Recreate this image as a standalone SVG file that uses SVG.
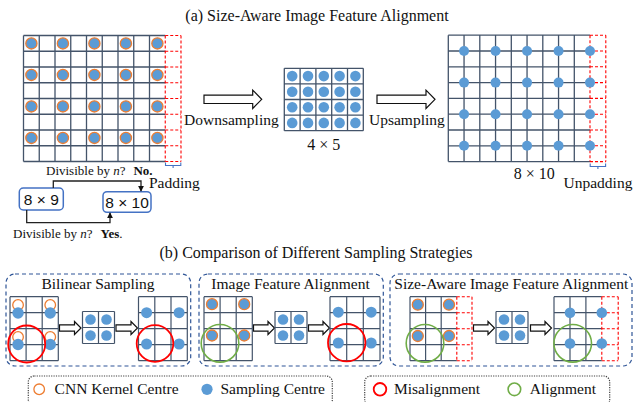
<svg xmlns="http://www.w3.org/2000/svg" width="634" height="402" viewBox="0 0 634 402">
<style>
text{font-family:"Liberation Serif","Times New Roman",serif;fill:#111}
.t16{font-size:16px}
.t15{font-size:15.5px}
.t13{font-size:13px}
.sans{font-family:"Liberation Sans",Arial,sans-serif;font-size:15.5px}
.g{fill:none;stroke:#44546A;stroke-width:1.3}
.gs{fill:none;stroke:#44546A;stroke-width:1.2}
.rd{fill:none;stroke:#FF0000;stroke-width:1.1;stroke-dasharray:3 2}
.dot{fill:#5B9BD5}
.dk{fill:#5B9BD5;stroke:#ED7D31;stroke-width:1.3}
.ok{fill:none;stroke:#ED7D31;stroke-width:1.3}
.mis{fill:none;stroke:#FF0000;stroke-width:1.8}
.al{fill:none;stroke:#70AD47;stroke-width:1.6}
.arw{fill:#fff;stroke:#111;stroke-width:1.2}
.panel{fill:none;stroke:#2F5597;stroke-width:1.2;stroke-dasharray:4 3}
.leg{fill:#fff;stroke:#404040;stroke-width:1.2;stroke-dasharray:1.2 1.2}
.box{fill:#fff;stroke:#4472C4;stroke-width:1.5}
.brk{fill:none;stroke:#4472C4;stroke-width:1.1}
.con{fill:none;stroke:#222;stroke-width:1.3}
</style>
<defs>
<marker id="ah" viewBox="0 0 8 8" refX="7" refY="4" markerWidth="6" markerHeight="6" markerUnits="userSpaceOnUse" orient="auto">
<path d="M0,0 L8,4 L0,8 Z" fill="#111"/>
</marker>
</defs>
<rect width="634" height="402" fill="#fff"/>

<text class="t16" x="317" y="21" text-anchor="middle">(a) Size-Aware Image Feature Alignment</text>

<g id="grid-8x9">
<path class="g" d="M23.5,35.5V161.5M39.25,35.5V161.5M55,35.5V161.5M70.75,35.5V161.5M86.5,35.5V161.5M102.25,35.5V161.5M118,35.5V161.5M133.75,35.5V161.5M149.5,35.5V161.5M23.5,35.5H165.25M23.5,51.25H165.25M23.5,67H165.25M23.5,82.75H165.25M23.5,98.5H165.25M23.5,114.25H165.25M23.5,130H165.25M23.5,145.75H165.25M23.5,161.5H165.25"/>
<path class="rd" d="M165.25,35.5V161.5M181,35.5V161.5M165.25,35.5H181M165.25,51.25H181M165.25,67H181M165.25,82.75H181M165.25,98.5H181M165.25,114.25H181M165.25,130H181M165.25,145.75H181M165.25,161.5H181"/>
<g>
<circle class="dk" cx="31.4" cy="43.4" r="5.6"/><circle class="dk" cx="62.9" cy="43.4" r="5.6"/><circle class="dk" cx="94.4" cy="43.4" r="5.6"/><circle class="dk" cx="125.9" cy="43.4" r="5.6"/><circle class="dk" cx="157.4" cy="43.4" r="5.6"/>
<circle class="dk" cx="31.4" cy="74.9" r="5.6"/><circle class="dk" cx="62.9" cy="74.9" r="5.6"/><circle class="dk" cx="94.4" cy="74.9" r="5.6"/><circle class="dk" cx="125.9" cy="74.9" r="5.6"/><circle class="dk" cx="157.4" cy="74.9" r="5.6"/>
<circle class="dk" cx="31.4" cy="106.4" r="5.6"/><circle class="dk" cx="62.9" cy="106.4" r="5.6"/><circle class="dk" cx="94.4" cy="106.4" r="5.6"/><circle class="dk" cx="125.9" cy="106.4" r="5.6"/><circle class="dk" cx="157.4" cy="106.4" r="5.6"/>
<circle class="dk" cx="31.4" cy="137.9" r="5.6"/><circle class="dk" cx="62.9" cy="137.9" r="5.6"/><circle class="dk" cx="94.4" cy="137.9" r="5.6"/><circle class="dk" cx="125.9" cy="137.9" r="5.6"/><circle class="dk" cx="157.4" cy="137.9" r="5.6"/>
</g>
<path class="brk" d="M165.5,162.5V165.5H180.8V162.5M173.1,165.5V168"/>
<text class="t13" x="46" y="175">Divisible by <tspan font-style="italic">n</tspan>?<tspan dx="8" font-weight="bold">No.</tspan></text>
<text class="t15" x="149" y="187.5">Padding</text>
</g>

<g id="grid-4x5">
<path class="g" d="M284.3,68.3V130.7M300.1,68.3V130.7M315.9,68.3V130.7M331.7,68.3V130.7M347.5,68.3V130.7M363.3,68.3V130.7M284.3,68.3H363.3M284.3,83.9H363.3M284.3,99.5H363.3M284.3,115.1H363.3M284.3,130.7H363.3"/>
<g>
<circle class="dot" cx="292.2" cy="76.1" r="5.3"/><circle class="dot" cx="308" cy="76.1" r="5.3"/><circle class="dot" cx="323.8" cy="76.1" r="5.3"/><circle class="dot" cx="339.6" cy="76.1" r="5.3"/><circle class="dot" cx="355.4" cy="76.1" r="5.3"/>
<circle class="dot" cx="292.2" cy="91.7" r="5.3"/><circle class="dot" cx="308" cy="91.7" r="5.3"/><circle class="dot" cx="323.8" cy="91.7" r="5.3"/><circle class="dot" cx="339.6" cy="91.7" r="5.3"/><circle class="dot" cx="355.4" cy="91.7" r="5.3"/>
<circle class="dot" cx="292.2" cy="107.3" r="5.3"/><circle class="dot" cx="308" cy="107.3" r="5.3"/><circle class="dot" cx="323.8" cy="107.3" r="5.3"/><circle class="dot" cx="339.6" cy="107.3" r="5.3"/><circle class="dot" cx="355.4" cy="107.3" r="5.3"/>
<circle class="dot" cx="292.2" cy="122.9" r="5.3"/><circle class="dot" cx="308" cy="122.9" r="5.3"/><circle class="dot" cx="323.8" cy="122.9" r="5.3"/><circle class="dot" cx="339.6" cy="122.9" r="5.3"/><circle class="dot" cx="355.4" cy="122.9" r="5.3"/>
</g>
<text class="t16" x="323.8" y="150" text-anchor="middle">4 × 5</text>
</g>

<g id="grid-8x10">
<path class="g" d="M448.3,35.2V161.6M464.05,35.2V161.6M479.8,35.2V161.6M495.55,35.2V161.6M511.3,35.2V161.6M527.05,35.2V161.6M542.8,35.2V161.6M558.55,35.2V161.6M574.3,35.2V161.6M448.3,35.2H590M448.3,51H590M448.3,66.8H590M448.3,82.6H590M448.3,98.4H590M448.3,114.2H590M448.3,130H590M448.3,145.8H590M448.3,161.6H590"/>
<path class="rd" d="M590,35.2V161.6M605.8,35.2V161.6M590,35.2H605.8M590,51H605.8M590,66.8H605.8M590,82.6H605.8M590,98.4H605.8M590,114.2H605.8M590,130H605.8M590,145.8H605.8M590,161.6H605.8"/>
<g>
<circle class="dot" cx="464.05" cy="51" r="5"/><circle class="dot" cx="495.55" cy="51" r="5"/><circle class="dot" cx="527.05" cy="51" r="5"/><circle class="dot" cx="558.55" cy="51" r="5"/><circle class="dot" cx="590" cy="51" r="5"/>
<circle class="dot" cx="464.05" cy="82.6" r="5"/><circle class="dot" cx="495.55" cy="82.6" r="5"/><circle class="dot" cx="527.05" cy="82.6" r="5"/><circle class="dot" cx="558.55" cy="82.6" r="5"/><circle class="dot" cx="590" cy="82.6" r="5"/>
<circle class="dot" cx="464.05" cy="114.2" r="5"/><circle class="dot" cx="495.55" cy="114.2" r="5"/><circle class="dot" cx="527.05" cy="114.2" r="5"/><circle class="dot" cx="558.55" cy="114.2" r="5"/><circle class="dot" cx="590" cy="114.2" r="5"/>
<circle class="dot" cx="464.05" cy="145.8" r="5"/><circle class="dot" cx="495.55" cy="145.8" r="5"/><circle class="dot" cx="527.05" cy="145.8" r="5"/><circle class="dot" cx="558.55" cy="145.8" r="5"/><circle class="dot" cx="590" cy="145.8" r="5"/>
</g>
<path class="brk" d="M590.2,163.5V166.5H605.6V163.5M597.9,166.5V169"/>
<text class="t16" x="534.3" y="179" text-anchor="middle">8 × 10</text>
<text class="t15" x="563.5" y="188">Unpadding</text>
</g>

<g id="box-8x9">
<rect class="box" x="19.3" y="188" width="44" height="22" rx="4"/>
<text class="sans" x="41.3" y="205" text-anchor="middle">8 × 9</text>
</g>
<g id="box-8x10">
<rect class="box" x="103" y="191.7" width="48" height="20.6" rx="4"/>
<text class="sans" x="127" y="207.5" text-anchor="middle">8 × 10</text>
</g>
<text class="t13" x="13" y="238">Divisible by <tspan font-style="italic">n</tspan>?<tspan dx="8" font-weight="bold">Yes</tspan>.</text>

<g id="connectors">
<path class="arw" d="M204,95.1H252.7V90.1L261.7,99.3L252.7,108.5V103.5H204Z"/>
<path class="arw" d="M377,95.1H426V90.1L435,99.3L426,108.5V103.5H377Z"/>
<path class="con" d="M53.3,188V181H141V191" marker-end="url(#ah)"/>
<path class="con" d="M26.7,210V222.7H110V213" marker-end="url(#ah)"/>
<path class="arw" d="M59.5,324.8H74.5V321.5L81,328L74.5,334.5V331.2H59.5Z"/>
<path class="arw" d="M116,324.8H131V321.5L137.5,328L131,334.5V331.2H116Z"/>
<path class="arw" d="M253.5,324.8H268V321.5L274.5,328L268,334.5V331.2H253.5Z"/>
<path class="arw" d="M308.5,324.8H323V321.5L329.5,328L323,334.5V331.2H308.5Z"/>
<path class="arw" d="M473.5,324.8H488V321.5L494.5,328L488,334.5V331.2H473.5Z"/>
<path class="arw" d="M530.5,324.8H545V321.5L551.5,328L545,334.5V331.2H530.5Z"/>
</g>
<text class="t15" x="184" y="125">Downsampling</text>
<text class="t15" x="369" y="125">Upsampling</text>

<text class="t16" x="316" y="258" text-anchor="middle">(b) Comparison of Different Sampling Strategies</text>

<g id="panel-bilinear">
<rect class="panel" x="6" y="274" width="184.7" height="92" rx="9"/>
<text class="t15" x="98" y="289" text-anchor="middle">Bilinear Sampling</text>
<path class="gs" d="M10,296.7V360.7M26.1,296.7V360.7M42.2,296.7V360.7M58.3,296.7V360.7M10,296.7H58.3M10,312.7H58.3M10,328.7H58.3M10,344.7H58.3M10,360.7H58.3"/>
<circle class="ok" cx="18.05" cy="305" r="5.3"/><circle class="ok" cx="50.25" cy="305" r="5.3"/><circle class="ok" cx="18.05" cy="337" r="5.3"/><circle class="ok" cx="50.25" cy="337" r="5.3"/>
<circle class="dot" cx="18.05" cy="313" r="5.7"/><circle class="dot" cx="50.25" cy="313" r="5.7"/><circle class="dot" cx="18.05" cy="344.5" r="5.7"/><circle class="dot" cx="50.25" cy="344.5" r="5.7"/>
<circle class="mis" cx="26.7" cy="344" r="18.5"/>
<path class="gs" d="M82.5,311.5V343.5M98.5,311.5V343.5M114.5,311.5V343.5M82.5,311.5H114.5M82.5,327.5H114.5M82.5,343.5H114.5"/>
<circle class="dot" cx="90.5" cy="319.5" r="5.3"/><circle class="dot" cx="106.5" cy="319.5" r="5.3"/><circle class="dot" cx="90.5" cy="335.5" r="5.3"/><circle class="dot" cx="106.5" cy="335.5" r="5.3"/>
<path class="gs" d="M138.5,296.7V360.7M154.8,296.7V360.7M171,296.7V360.7M187.3,296.7V360.7M138.5,296.7H187.3M138.5,312.7H187.3M138.5,328.7H187.3M138.5,344.7H187.3M138.5,360.7H187.3"/>
<circle class="dot" cx="146.6" cy="312.7" r="5.5"/><circle class="dot" cx="179.1" cy="312.7" r="5.5"/><circle class="dot" cx="146.6" cy="344" r="5.5"/><circle class="dot" cx="179.1" cy="344" r="5.5"/>
<circle class="mis" cx="155" cy="343.5" r="18.3"/>
</g>

<g id="panel-ifa">
<rect class="panel" x="199" y="274" width="184.3" height="92" rx="9"/>
<text class="t15" x="290.5" y="289" text-anchor="middle">Image Feature Alignment</text>
<path class="gs" d="M204,296.7V360.7M220.1,296.7V360.7M236.2,296.7V360.7M252.3,296.7V360.7M204,296.7H252.3M204,312.7H252.3M204,328.7H252.3M204,344.7H252.3M204,360.7H252.3"/>
<circle class="dk" cx="212" cy="304.2" r="5.5"/><circle class="dk" cx="244.2" cy="304.2" r="5.5"/><circle class="dk" cx="212" cy="335.5" r="5.5"/><circle class="dk" cx="244.2" cy="335.5" r="5.5"/>
<circle class="al" cx="220" cy="343.3" r="18.8"/>
<path class="gs" d="M275,311.5V343.5M291,311.5V343.5M307,311.5V343.5M275,311.5H307M275,327.5H307M275,343.5H307"/>
<circle class="dot" cx="283" cy="319.5" r="5.3"/><circle class="dot" cx="299" cy="319.5" r="5.3"/><circle class="dot" cx="283" cy="335.5" r="5.3"/><circle class="dot" cx="299" cy="335.5" r="5.3"/>
<path class="gs" d="M330,296.7V360.7M346.7,296.7V360.7M363.3,296.7V360.7M380,296.7V360.7M330,296.7H380M330,312.7H380M330,328.7H380M330,344.7H380M330,360.7H380"/>
<circle class="dot" cx="338.3" cy="312.2" r="5.5"/><circle class="dot" cx="371.2" cy="312.2" r="5.5"/><circle class="dot" cx="338.3" cy="343" r="5.5"/><circle class="dot" cx="371.2" cy="343" r="5.5"/>
<circle class="mis" cx="346.7" cy="342.7" r="18.7"/>
</g>

<g id="panel-saifa">
<rect class="panel" x="390" y="274" width="242" height="92" rx="9"/>
<text class="t15" x="394.3" y="289">Size-Aware Image Feature Alignment</text>
<path class="gs" d="M410,296.7V360.7M425.6,296.7V360.7M441.2,296.7V360.7M410,296.7H456.8M410,312.7H456.8M410,328.7H456.8M410,344.7H456.8M410,360.7H456.8"/>
<path class="rd" d="M456.8,296.7V360.7M472,296.7V360.7M456.8,296.7H472M456.8,312.7H472M456.8,328.7H472M456.8,344.7H472M456.8,360.7H472"/>
<circle class="dk" cx="417.8" cy="304.7" r="5.5"/><circle class="dk" cx="449" cy="304.7" r="5.5"/><circle class="dk" cx="417.8" cy="336" r="5.5"/><circle class="dk" cx="449" cy="336" r="5.5"/>
<circle class="al" cx="425" cy="343.3" r="18.8"/>
<path class="gs" d="M496,311.5V343.5M512,311.5V343.5M528,311.5V343.5M496,311.5H528M496,327.5H528M496,343.5H528"/>
<circle class="dot" cx="504" cy="319.5" r="5.3"/><circle class="dot" cx="520" cy="319.5" r="5.3"/><circle class="dot" cx="504" cy="335.5" r="5.3"/><circle class="dot" cx="520" cy="335.5" r="5.3"/>
<path class="gs" d="M554,296.7V360.7M570,296.7V360.7M585.9,296.7V360.7M554,296.7H601.8M554,312.7H601.8M554,328.7H601.8M554,344.7H601.8M554,360.7H601.8"/>
<path class="rd" d="M601.8,296.7V360.7M618.2,296.7V360.7M601.8,296.7H618.2M601.8,312.7H618.2M601.8,328.7H618.2M601.8,344.7H618.2M601.8,360.7H618.2"/>
<circle class="dot" cx="570" cy="312.7" r="5.3"/><circle class="dot" cx="601.8" cy="312.7" r="5.3"/><circle class="dot" cx="570" cy="343.5" r="5.3"/><circle class="dot" cx="601.8" cy="343.5" r="5.3"/>
<circle class="al" cx="572.7" cy="343.3" r="18.8"/>
</g>

<g id="legend-centres">
<rect class="leg" x="28.3" y="376" width="304" height="30" rx="6"/>
<circle class="ok" cx="39.2" cy="389.3" r="5.3"/>
<text class="t15" x="54.6" y="394">CNN Kernel Centre</text>
<circle class="dot" cx="207" cy="389.3" r="5.6"/>
<text class="t15" x="220.4" y="394">Sampling Centre</text>
</g>
<g id="legend-alignment">
<rect class="leg" x="364.7" y="376" width="245" height="30" rx="6"/>
<circle class="mis" cx="380" cy="389.3" r="6.3"/>
<text class="t15" x="394" y="394">Misalignment</text>
<circle class="al" cx="514.4" cy="389.3" r="6.3"/>
<text class="t15" x="529.7" y="394">Alignment</text>
</g>
</svg>
